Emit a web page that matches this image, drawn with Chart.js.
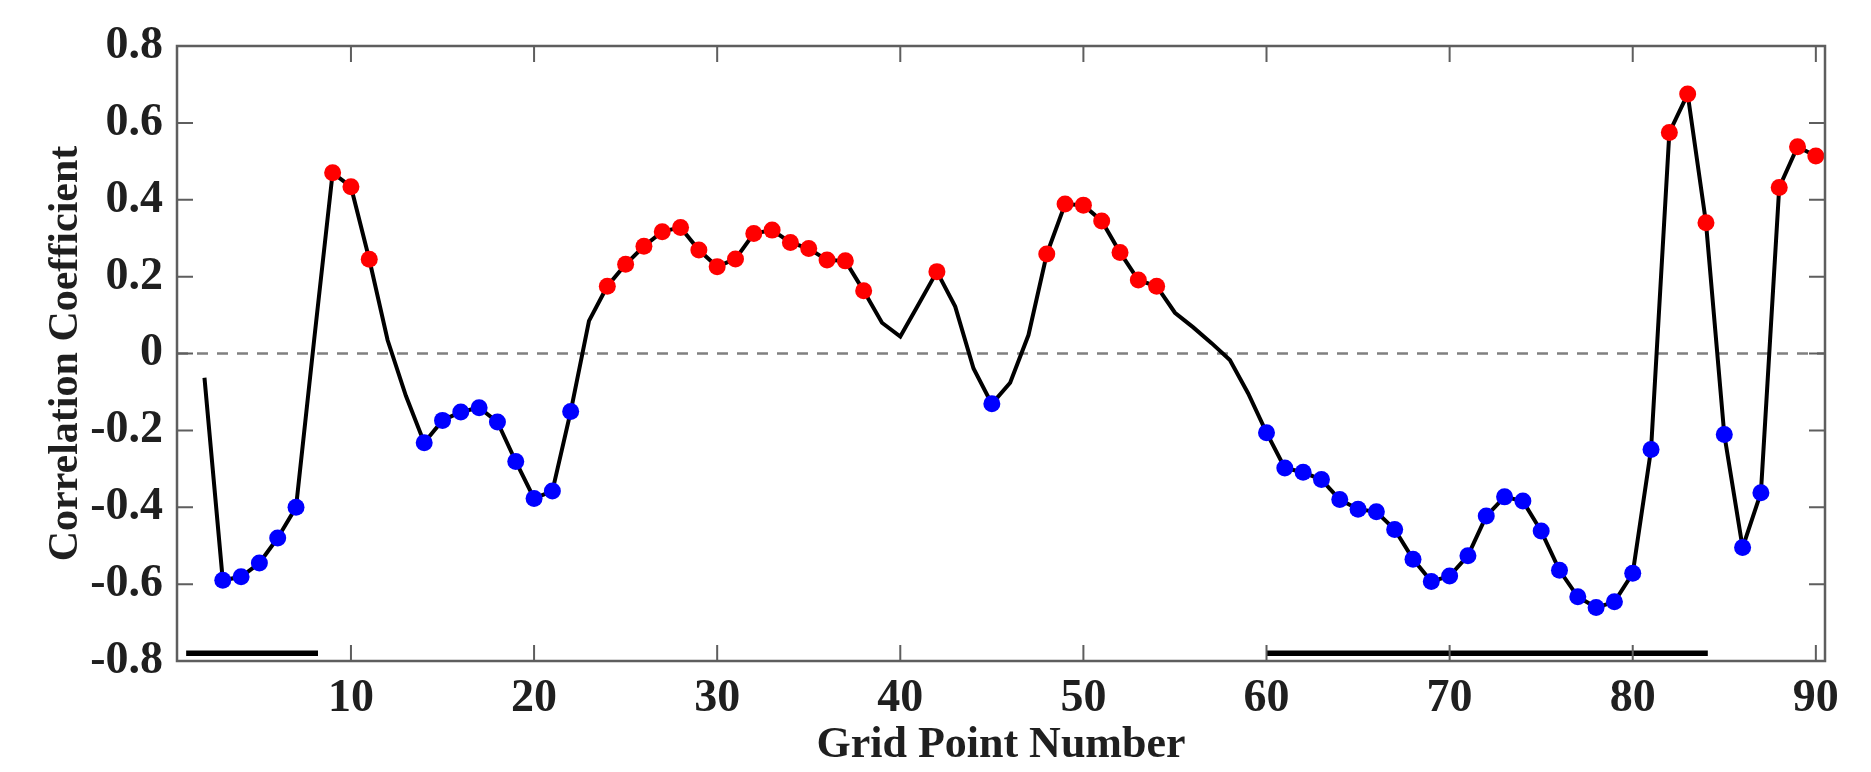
<!DOCTYPE html>
<html>
<head>
<meta charset="utf-8">
<title>Correlation Coefficient</title>
<script src="https://cdn.jsdelivr.net/npm/chart.js@4.4.1/dist/chart.umd.min.js"></script>
<style>
  html,body{margin:0;padding:0;background:#fff;}
  #wrap{width:1871px;height:772px;}
</style>
</head>
<body>
<div id="wrap"><canvas id="chart" width="1871" height="772"></canvas></div>
<script>
// grid points (x) and correlation values
const gridPoints = [
   2, 3, 4, 5, 6, 7, 8, 9,10,11,12,13,14,15,16,17,18,19,20,21,
  22,23,24,25,26,27,28,29,30,31,32,33,34,35,36,37,38,39,40,41,
  42,43,44,45,46,47,48,49,50,51,52,53,54,55,56,57,58,59,60,61,
  62,63,64,65,66,67,68,69,70,71,72,73,74,75,76,77,78,79,80,81,
  82,83,84,85,86,87,88,89,90
];
const corrCoef = [
  -0.063,-0.590,-0.581,-0.545,-0.480,-0.400, 0.040, 0.470, 0.434, 0.245,
   0.035,-0.110,-0.232,-0.174,-0.152,-0.141,-0.178,-0.281,-0.377,-0.358,
  -0.151, 0.085, 0.175, 0.232, 0.279, 0.317, 0.328, 0.269, 0.226, 0.246,
   0.312, 0.321, 0.289, 0.273, 0.243, 0.241, 0.163, 0.080, 0.044, 0.128,
   0.213, 0.122,-0.039,-0.131,-0.076, 0.048, 0.259, 0.389, 0.386, 0.345,
   0.263, 0.191, 0.175, 0.106, 0.068, 0.027,-0.017,-0.104,-0.206,-0.298,
  -0.309,-0.328,-0.380,-0.405,-0.412,-0.458,-0.535,-0.593,-0.579,-0.526,
  -0.423,-0.373,-0.384,-0.462,-0.564,-0.633,-0.661,-0.646,-0.572,-0.250,
   0.575, 0.675, 0.340,-0.211,-0.505,-0.362, 0.432, 0.538, 0.514
];
// points marked as significant
const redPoints  = [9,10,11,24,25,26,27,28,29,30,31,32,33,34,35,36,37,38,42,48,49,50,51,52,53,54,82,83,84,88,89,90];
const bluePoints = [3,4,5,6,7,14,15,16,17,18,19,20,21,22,45,60,61,62,63,64,65,66,67,68,69,70,71,72,73,74,75,76,77,78,79,80,81,85,86,87];
// black bars along the bottom
const barRanges = [[1, 8.2], [60, 84.1]];
const barLevel  = -0.78;

const xTicks = [10,20,30,40,50,60,70,80,90];
const yTicks = [-0.8,-0.6,-0.4,-0.2,0,0.2,0.4,0.6,0.8];

const FONT = '"Liberation Serif","Times New Roman",serif';
const TXT  = '#1f1f1f';
const TICK = 16;

const pts  = gridPoints.map((g,i)=>({x:g, y:corrCoef[i]}));
const pick = list => pts.filter(p=>list.includes(p.x));

// MATLAB-like box with inward ticks on all four sides
const boxPlugin = {
  id:'box',
  afterDraw(chart){
    const {ctx, chartArea:a, scales:{x, y}} = chart;
    ctx.save();
    ctx.strokeStyle='#5e5e5e';
    ctx.lineWidth=2.5;
    ctx.strokeRect(a.left, a.top, a.right-a.left, a.bottom-a.top);
    ctx.lineWidth=2;
    ctx.beginPath();
    xTicks.forEach(v=>{
      const px=x.getPixelForValue(v);
      ctx.moveTo(px,a.bottom); ctx.lineTo(px,a.bottom-TICK);
      ctx.moveTo(px,a.top);    ctx.lineTo(px,a.top+TICK);
    });
    yTicks.forEach(v=>{
      const py=y.getPixelForValue(v);
      ctx.moveTo(a.left,py);  ctx.lineTo(a.left+TICK,py);
      ctx.moveTo(a.right,py); ctx.lineTo(a.right-TICK,py);
    });
    ctx.stroke();
    ctx.restore();
  }
};

const datasets = [
  {
    data:[{x:0.5,y:0},{x:90.5,y:0}],
    borderColor:'#808080', borderWidth:2.5, borderDash:[11,9],
    pointRadius:0, order:4
  },
  ...barRanges.map(r=>({
    data:[{x:r[0],y:barLevel},{x:r[1],y:barLevel}],
    borderColor:'#000', borderWidth:5.5, borderCapStyle:'butt',
    pointRadius:0, order:3
  })),
  {
    data:pts,
    borderColor:'#000', borderWidth:4, tension:0,
    pointRadius:0, order:2
  },
  {
    data:pick(redPoints), showLine:false,
    pointRadius:8.5, pointBackgroundColor:'#ff0000', pointBorderWidth:0,
    clip:false, order:1
  },
  {
    data:pick(bluePoints), showLine:false,
    pointRadius:8.5, pointBackgroundColor:'#0000ff', pointBorderWidth:0,
    clip:false, order:1
  }
];

new Chart(document.getElementById('chart').getContext('2d'), {
  type:'line',
  data:{datasets},
  options:{
    responsive:false,
    animation:false,
    devicePixelRatio:1,
    layout:{padding:{left:0,right:46,top:46,bottom:0}},
    plugins:{legend:{display:false}, tooltip:{enabled:false}},
    scales:{
      x:{
        type:'linear', min:0.5, max:90.5,
        afterBuildTicks: s=>{ s.ticks = xTicks.map(v=>({value:v})); },
        afterFit: s=>{ s.height = 111; },
        grid:{display:false, drawTicks:false},
        border:{display:false},
        ticks:{padding:11, color:TXT, autoSkip:false, maxRotation:0,
               font:{family:FONT, size:46, weight:'bold'}},
        title:{display:true, text:'Grid Point Number', color:TXT,
               padding:{top:0,bottom:0},
               font:{family:FONT, size:44, weight:'bold'}}
      },
      y:{
        type:'linear', min:-0.8, max:0.8,
        afterBuildTicks: s=>{ s.ticks = yTicks.map(v=>({value:v})); },
        afterFit: s=>{ s.width = 177; },
        grid:{display:false, drawTicks:false},
        border:{display:false},
        ticks:{padding:14, color:TXT,
               font:{family:FONT, size:46, weight:'bold'},
               callback: v => Math.abs(v)<1e-9 ? '0' : v.toFixed(1)},
        title:{display:true, text:'Correlation Coefficient', color:TXT,
               padding:{top:41,bottom:0},
               font:{family:FONT, size:42, weight:'bold'}}
      }
    }
  },
  plugins:[boxPlugin]
});
</script>
</body>
</html>
